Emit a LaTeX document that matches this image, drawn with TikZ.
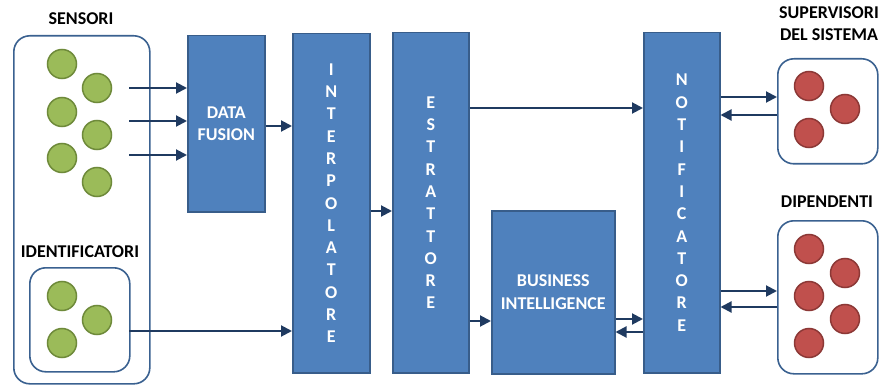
\documentclass[tikz,border=0pt]{standalone}
\usepackage{fontspec}
\setmainfont{Carlito}
\usetikzlibrary{arrows.meta}
\definecolor{boxfill}{HTML}{4F81BD}
\definecolor{boxline}{HTML}{385D8A}
\definecolor{arrcol}{HTML}{1F3A60}
\definecolor{contline}{HTML}{3A6190}
\definecolor{grfill}{HTML}{9BBB59}
\definecolor{grline}{HTML}{6E8A3A}
\definecolor{rdfill}{HTML}{C0504D}
\definecolor{rdline}{HTML}{8C3836}
\tikzset{
  blk/.style={draw=boxline, fill=boxfill, line width=1.5pt, inner sep=0pt, anchor=north west},
  blktxt/.style={text=white, align=center, font=\bfseries\fontsize{18}{22.3}\selectfont, inner sep=0pt},
  cont/.style={draw=contline, line width=1.6pt, rounded corners=16pt, inner sep=0pt, anchor=north west},
  lbl/.style={text=black, align=center, font=\bfseries\fontsize{18}{22.3}\selectfont, inner sep=0pt},
  gdot/.style={circle, draw=grline, fill=grfill, line width=1.5pt, minimum size=29pt, inner sep=0pt},
  rdot/.style={circle, draw=rdline, fill=rdfill, line width=1.5pt, minimum size=29pt, inner sep=0pt},
  arr/.style={draw=arrcol, line width=2pt, -{Triangle[length=11pt,width=11pt]}},
}
\begin{document}
\begin{tikzpicture}[x=1pt,y=-1pt]
\useasboundingbox (0,0) rectangle (881,385);
% containers
\node[cont, minimum width=136pt, minimum height=348pt] (sens) at (13,35) {};
\node[cont, minimum width=100pt, minimum height=104pt] (idbox) at (29,267) {};
\node[cont, minimum width=100pt, minimum height=105pt] (supbox) at (777,58) {};
\node[cont, minimum width=100pt, minimum height=153pt] (dipbox) at (777,220) {};
% labels
\node[lbl] (lsens) at (81,19) {SENSORI};
\node[lbl] (lid) at (80,252) {IDENTIFICATORI};
\node[lbl] (lsup) at (829,24) {SUPERVISORI\\DEL SISTEMA};
\node[lbl] (ldip) at (827,202) {DIPENDENTI};
% green dots
\node[gdot] (g1) at (62,64) {};
\node[gdot] (g2) at (97,88) {};
\node[gdot] (g3) at (62,112) {};
\node[gdot] (g4) at (97,135) {};
\node[gdot] (g5) at (62,158) {};
\node[gdot] (g6) at (97,182) {};
\node[gdot] (g7) at (62,296) {};
\node[gdot] (g8) at (97,320) {};
\node[gdot] (g9) at (62,343) {};
% red dots
\node[rdot] (r1) at (809,86) {};
\node[rdot] (r2) at (845,109) {};
\node[rdot] (r3) at (809,133) {};
\node[rdot] (r4) at (809,249) {};
\node[rdot] (r5) at (845,273) {};
\node[rdot] (r6) at (809,296) {};
\node[rdot] (r7) at (845,319) {};
\node[rdot] (r8) at (809,343) {};
% blocks
\node[blk, minimum width=77pt, minimum height=176pt] (df) at (187,35) {};
\node[blktxt] (tdf) at (df.center) {DATA\\FUSION};
\node[blk, minimum width=77pt, minimum height=339pt] (ip) at (292,33) {};
\node[blktxt] (tip) at (ip.center) {I\\N\\T\\E\\R\\P\\O\\L\\A\\T\\O\\R\\E};
\node[blk, minimum width=76pt, minimum height=340pt] (es) at (392,32) {};
\node[blktxt] (tes) at (es.center) {E\\S\\T\\R\\A\\T\\T\\O\\R\\E};
\node[blk, minimum width=123pt, minimum height=163pt] (bi) at (491,210) {};
\node[blktxt] (tbi) at (bi.center) {BUSINESS\\INTELLIGENCE};
\node[blk, minimum width=76pt, minimum height=340pt] (no) at (643,32) {};
\node[blktxt] (tno) at (no.center) {N\\O\\T\\I\\F\\I\\C\\A\\T\\O\\R\\E};
% arrow levels
\coordinate (s1) at (129,88);
\coordinate (s2) at (129,121);
\coordinate (s3) at (129,155);
\coordinate (s4) at (129,331);
\coordinate (ydf) at (0,126);
\coordinate (yip) at (0,211);
\coordinate (yno) at (0,108);
\coordinate (ybi) at (0,321);
\coordinate (ybn1) at (0,319);
\coordinate (ybn2) at (0,332);
\coordinate (ysup1) at (0,97);
\coordinate (ysup2) at (0,115);
\coordinate (ydip1) at (0,291);
\coordinate (ydip2) at (0,307);
% connectors
\draw[arr] (s1) -- (s1 -| df.west);
\draw[arr] (s2) -- (s2 -| df.west);
\draw[arr] (s3) -- (s3 -| df.west);
\draw[arr] (s4) -- (s4 -| ip.west);
\draw[arr] (df.east |- ydf) -- (ip.west |- ydf);
\draw[arr] (ip.east |- yip) -- (es.west |- yip);
\draw[arr] (es.east |- yno) -- (no.west |- yno);
\draw[arr] (es.east |- ybi) -- (bi.west |- ybi);
\draw[arr] (bi.east |- ybn1) -- (no.west |- ybn1);
\draw[arr] (no.west |- ybn2) -- (bi.east |- ybn2);
\draw[arr] (no.east |- ysup1) -- (supbox.west |- ysup1);
\draw[arr] (supbox.west |- ysup2) -- (no.east |- ysup2);
\draw[arr] (no.east |- ydip1) -- (dipbox.west |- ydip1);
\draw[arr] (dipbox.west |- ydip2) -- (no.east |- ydip2);
\end{tikzpicture}
\end{document}
